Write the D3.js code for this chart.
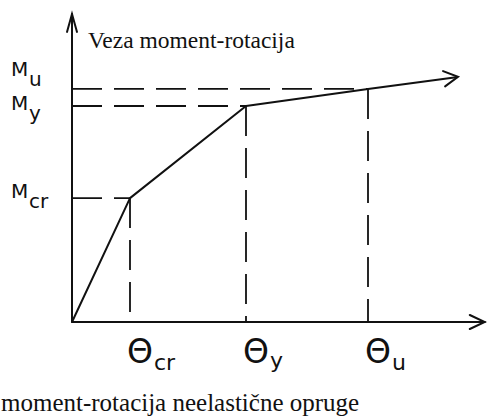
<!DOCTYPE html>
<html>
<head>
<meta charset="utf-8">
<script src="https://cdn.jsdelivr.net/npm/d3@7"></script>
<style>
  body { margin: 0; background: #fff; }
  svg { display: block; }
</style>
</head>
<body>
<svg id="chart" width="487" height="419"></svg>
<script>
// moment-rotation spring diagram

// key points (rotation, moment) in arbitrary units
const pointNames = ["cr", "y", "u"];
const thetaValues = [14.5, 43.5, 74];
const momentValues = [41.3, 72, 77.7];
// the curve: origin, the three points, then the arrow end
const curveTheta = [0, 14.5, 43.5, 74, 96.5];
const curveMoment = [0, 41.3, 72, 77.7, 81.7];
// labels
const momentSubs = ["cr", "y", "u"];
const thetaSubs = ["cr", "y", "u"];
const title = "Veza moment-rotacija";
const caption = "moment-rotacija neelastične opruge";

const svg = d3.select("#chart");

// scales
const x = d3.scaleLinear().domain([0, 100]).range([72, 472]);
const y = d3.scaleLinear().domain([0, 100]).range([322, 22]);

const ink = "#111";

// axes
const axes = svg.append("g")
    .attr("stroke", ink)
    .attr("stroke-width", 2)
    .attr("fill", "none")
    .attr("stroke-linecap", "round");

axes.append("line")
    .attr("x1", x(0)).attr("y1", y(0))
    .attr("x2", x(103.2)).attr("y2", y(0));
axes.append("path")
    .attr("d", `M${x(103.2) - 15},${y(0) - 7} L${x(103.2)},${y(0)} L${x(103.2) - 15},${y(0) + 7}`);

axes.append("line")
    .attr("x1", x(0)).attr("y1", y(0))
    .attr("x2", x(0)).attr("y2", y(102.7));
axes.append("path")
    .attr("d", `M${x(0) - 5},${y(102.7) + 18} L${x(0)},${y(102.7)} L${x(0) + 5},${y(102.7) + 18}`);

// dashed guides
const guides = svg.append("g")
    .attr("stroke", ink)
    .attr("stroke-width", 1.8)
    .attr("stroke-dasharray", "30,12");

pointNames.forEach((n, i) => {
    guides.append("line")
        .attr("x1", x(0)).attr("y1", y(momentValues[i]))
        .attr("x2", x(thetaValues[i])).attr("y2", y(momentValues[i]));
    guides.append("line")
        .attr("x1", x(thetaValues[i])).attr("y1", y(momentValues[i]))
        .attr("x2", x(thetaValues[i])).attr("y2", y(0));
});

// curve
const line = d3.line()
    .x(d => x(d[0]))
    .y(d => y(d[1]));

const curve = curveTheta.map((t, i) => [t, curveMoment[i]]);

svg.append("path")
    .datum(curve)
    .attr("d", line)
    .attr("fill", "none")
    .attr("stroke", ink)
    .attr("stroke-width", 2)
    .attr("stroke-linejoin", "round");

// arrow head on the curve end
const last = curve[curve.length - 1], prev = curve[curve.length - 2];
const ex = x(last[0]), ey = y(last[1]);
const ang = Math.atan2(ey - y(prev[1]), ex - x(prev[0]));
const headLen = 16, headAng = 0.5;
svg.append("path")
    .attr("d", `M${ex - headLen * Math.cos(ang - headAng)},${ey - headLen * Math.sin(ang - headAng)}
                L${ex},${ey}
                L${ex - headLen * Math.cos(ang + headAng)},${ey - headLen * Math.sin(ang + headAng)}`)
    .attr("fill", "none")
    .attr("stroke", ink)
    .attr("stroke-width", 2)
    .attr("stroke-linecap", "round");

// moment labels on the left
const labelFont = "DejaVu Sans";
momentSubs.forEach((s, i) => {
    const by = y(momentValues[i]);
    const t = svg.append("text")
        .attr("font-family", labelFont)
        .attr("font-size", 20)
        .attr("fill", ink);
    t.append("tspan").attr("x", 11).attr("y", by + (s === "u" ? -13 : s === "y" ? 4 : 0)).text("M");
    t.append("tspan").attr("x", 29).attr("dy", 10).text(s);
});

// theta labels below the axis
thetaSubs.forEach((s, i) => {
    const cx = x(thetaValues[i]);
    const t = svg.append("text")
        .attr("font-family", labelFont)
        .attr("fill", ink)
        .attr("y", 363);
    t.append("tspan").attr("x", cx - 3).attr("font-size", 33).text("Θ");
    t.append("tspan").attr("font-size", 22).attr("dx", 1).attr("dy", s === "y" ? 5 : 7).text(s);
});

// title and caption
svg.append("text")
    .attr("x", 88)
    .attr("y", 48)
    .attr("font-family", "Liberation Serif")
    .attr("font-size", 23.5)
    .attr("fill", ink)
    .text(title);

svg.append("text")
    .attr("x", 1)
    .attr("y", 411)
    .attr("font-family", "Liberation Serif")
    .attr("font-size", 25)
    .attr("fill", ink)
    .text(caption);
</script>
</body>
</html>
